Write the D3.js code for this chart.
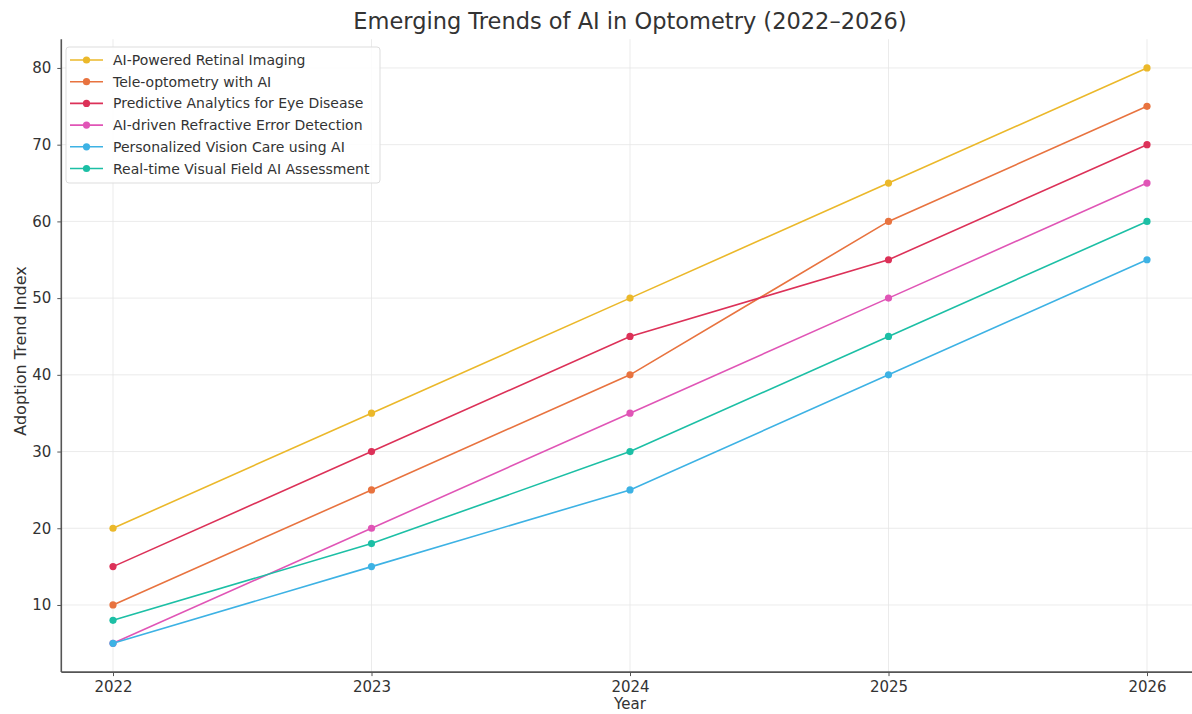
<!DOCTYPE html>
<html><head><meta charset="utf-8">
<script src="https://cdn.jsdelivr.net/npm/d3@7"></script>
<style>body{margin:0;background:#fff;} svg{display:block;font-family:"DejaVu Sans",sans-serif;}</style>
</head><body>
<svg id="chart" width="1192" height="714"></svg>
<script>
const years = [2022, 2023, 2024, 2025, 2026];
const seriesNames = [
  "AI-Powered Retinal Imaging",
  "Tele-optometry with AI",
  "Predictive Analytics for Eye Disease",
  "AI-driven Refractive Error Detection",
  "Personalized Vision Care using AI",
  "Real-time Visual Field AI Assessment"
];
const retinalImaging = [20, 35, 50, 65, 80];
const teleOptometry = [10, 25, 40, 60, 75];
const predictiveAnalytics = [15, 30, 45, 55, 70];
const refractiveDetection = [5, 20, 35, 50, 65];
const personalizedCare = [5, 15, 25, 40, 55];
const visualField = [8, 18, 30, 45, 60];
const seriesColors = ["#ebb82a", "#e8733f", "#dc3158", "#e055b6", "#3db2e4", "#1cbfa5"];
const yTicks = [10, 20, 30, 40, 50, 60, 70, 80];

(function () {
const allValues = [retinalImaging, teleOptometry, predictiveAnalytics, refractiveDetection, personalizedCare, visualField];
const series = seriesNames.map((n, i) => ({name: n, values: allValues[i], color: seriesColors[i]}));

const svg = d3.select("#chart");
const pLeft = 61.3, pRight = 1198.7, pTop = 39.2, pBottom = 672.1;
const x = d3.scaleLinear().domain([2021.8, 2026.2]).range([pLeft, pRight]);
const y = d3.scaleLinear().domain([1.25, 83.75]).range([pBottom, pTop]);

// grid
const g = svg.append("g");
g.selectAll(".vg").data(years).enter().append("line")
  .attr("x1", d => x(d)).attr("x2", d => x(d)).attr("y1", pTop).attr("y2", pBottom)
  .attr("stroke", "#e6e6e6").attr("stroke-width", 0.8);
g.selectAll(".hg").data(yTicks).enter().append("line")
  .attr("x1", pLeft).attr("x2", pRight).attr("y1", d => y(d)).attr("y2", d => y(d))
  .attr("stroke", "#e6e6e6").attr("stroke-width", 0.8);

// lines
const line = d3.line().x((d, i) => x(years[i])).y(d => y(d));
series.forEach(s => {
  svg.append("path").datum(s.values).attr("d", line)
    .attr("fill", "none").attr("stroke", s.color).attr("stroke-width", 1.6);
  svg.selectAll(null).data(s.values).enter().append("circle")
    .attr("cx", (d, i) => x(years[i])).attr("cy", d => y(d)).attr("r", 3.6)
    .attr("fill", s.color);
});

// axes
const xAxis = d3.axisBottom(x).tickValues(years).tickFormat(d3.format("d")).tickSize(4).tickPadding(5);
const yAxis = d3.axisLeft(y).tickValues(yTicks).tickSize(4).tickPadding(6);
const xa = svg.append("g").attr("transform", `translate(0,${pBottom})`).call(xAxis);
const ya = svg.append("g").attr("transform", `translate(${pLeft},0)`).call(yAxis);
[xa, ya].forEach(a => {
  a.select(".domain").attr("stroke", "#555").attr("stroke-width", 1.6);
  a.selectAll(".tick line").attr("stroke", "#555");
  a.selectAll(".tick text").attr("fill", "#333").style("font-size", "15px").style("font-family", "DejaVu Sans");
});
ya.select(".domain").attr("d", `M0,${pBottom}V${pTop}`);
xa.select(".domain").attr("d", `M${pLeft},0H${pRight}`);

// title & labels
svg.append("text").attr("x", 630).attr("y", 29).attr("text-anchor", "middle")
  .attr("fill", "#333").style("font-size", "22.5px").text("Emerging Trends of AI in Optometry (2022–2026)");
svg.append("text").attr("x", 630).attr("y", 709).attr("text-anchor", "middle")
  .attr("fill", "#333").style("font-size", "15px").text("Year");
svg.append("text").attr("transform", `translate(26,351) rotate(-90)`).attr("text-anchor", "middle")
  .attr("fill", "#333").style("font-size", "16px").text("Adoption Trend Index");

// legend
const lg = svg.append("g");
lg.append("rect").attr("x", 66).attr("y", 47).attr("width", 314).attr("height", 136).attr("rx", 3)
  .attr("fill", "#fff").attr("fill-opacity", 0.85).attr("stroke", "#ddd");
series.forEach((s, i) => {
  const yy = 60 + i * 21.7;
  lg.append("line").attr("x1", 70).attr("x2", 103).attr("y1", yy).attr("y2", yy).attr("stroke", s.color).attr("stroke-width", 1.6);
  lg.append("circle").attr("cx", 86.5).attr("cy", yy).attr("r", 3.6).attr("fill", s.color);
  lg.append("text").attr("x", 113).attr("y", yy + 5).attr("fill", "#333").style("font-size", "14px").text(s.name);
});
})();
</script>
</body></html>
